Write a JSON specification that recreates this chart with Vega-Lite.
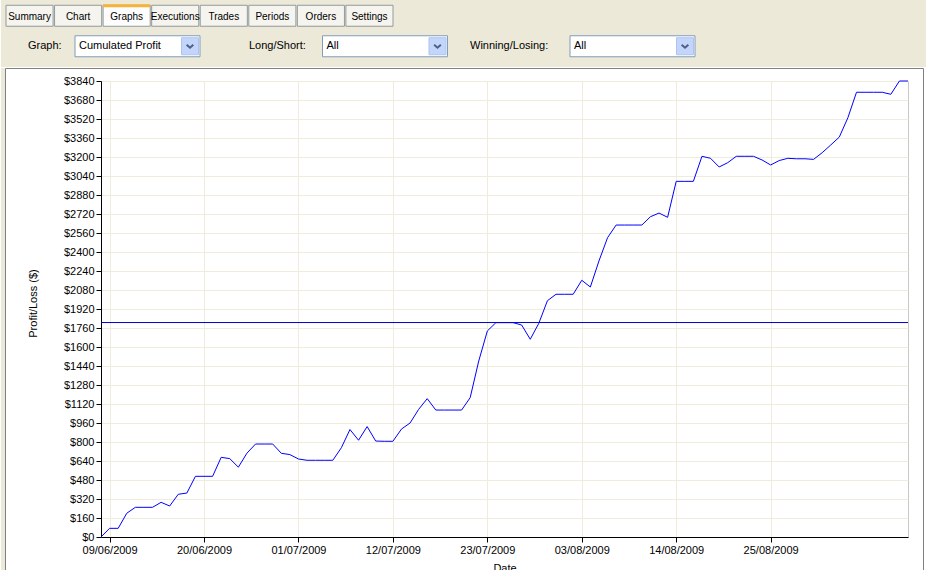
{
  "$schema": "https://vega.github.io/schema/vega-lite/v6.json",
  "background": "white",
  "padding": 0,
  "spacing": 0,
  "datasets": {
    "panel": [{"part": "panel"}],
    "tabs": [
      {"tab": "Summary", "sel": "n"},
      {"tab": "Chart", "sel": "n"},
      {"tab": "Graphs", "sel": "y"},
      {"tab": "Executions", "sel": "n"},
      {"tab": "Trades", "sel": "n"},
      {"tab": "Periods", "sel": "n"},
      {"tab": "Orders", "sel": "n"},
      {"tab": "Settings", "sel": "n"}
    ],
    "controls": [
      {"group": "g1", "label": "Graph:", "value": "Cumulated Profit"},
      {"group": "g2", "label": "Long/Short:", "value": "All"},
      {"group": "g3", "label": "Winning/Losing:", "value": "All"}
    ],
    "profit": [
      {"date": "2009-06-08", "profit": 0},
      {"date": "2009-06-09", "profit": 73},
      {"date": "2009-06-10", "profit": 73},
      {"date": "2009-06-11", "profit": 200},
      {"date": "2009-06-12", "profit": 250},
      {"date": "2009-06-13", "profit": 250},
      {"date": "2009-06-14", "profit": 250},
      {"date": "2009-06-15", "profit": 292},
      {"date": "2009-06-16", "profit": 261},
      {"date": "2009-06-17", "profit": 360},
      {"date": "2009-06-18", "profit": 370},
      {"date": "2009-06-19", "profit": 511},
      {"date": "2009-06-20", "profit": 511},
      {"date": "2009-06-21", "profit": 511},
      {"date": "2009-06-22", "profit": 671},
      {"date": "2009-06-23", "profit": 660},
      {"date": "2009-06-24", "profit": 588},
      {"date": "2009-06-25", "profit": 706},
      {"date": "2009-06-26", "profit": 783},
      {"date": "2009-06-27", "profit": 783},
      {"date": "2009-06-28", "profit": 783},
      {"date": "2009-06-29", "profit": 705},
      {"date": "2009-06-30", "profit": 694},
      {"date": "2009-07-01", "profit": 657},
      {"date": "2009-07-02", "profit": 646},
      {"date": "2009-07-03", "profit": 646},
      {"date": "2009-07-04", "profit": 646},
      {"date": "2009-07-05", "profit": 646},
      {"date": "2009-07-06", "profit": 752},
      {"date": "2009-07-07", "profit": 905},
      {"date": "2009-07-08", "profit": 815},
      {"date": "2009-07-09", "profit": 930},
      {"date": "2009-07-10", "profit": 808},
      {"date": "2009-07-11", "profit": 806},
      {"date": "2009-07-12", "profit": 806},
      {"date": "2009-07-13", "profit": 909},
      {"date": "2009-07-14", "profit": 960},
      {"date": "2009-07-15", "profit": 1075},
      {"date": "2009-07-16", "profit": 1165},
      {"date": "2009-07-17", "profit": 1069},
      {"date": "2009-07-18", "profit": 1069},
      {"date": "2009-07-19", "profit": 1069},
      {"date": "2009-07-20", "profit": 1069},
      {"date": "2009-07-21", "profit": 1173},
      {"date": "2009-07-22", "profit": 1482},
      {"date": "2009-07-23", "profit": 1735},
      {"date": "2009-07-24", "profit": 1805},
      {"date": "2009-07-25", "profit": 1805},
      {"date": "2009-07-26", "profit": 1805},
      {"date": "2009-07-27", "profit": 1785},
      {"date": "2009-07-28", "profit": 1665},
      {"date": "2009-07-29", "profit": 1800},
      {"date": "2009-07-30", "profit": 1990},
      {"date": "2009-07-31", "profit": 2044},
      {"date": "2009-08-01", "profit": 2044},
      {"date": "2009-08-02", "profit": 2044},
      {"date": "2009-08-03", "profit": 2162},
      {"date": "2009-08-04", "profit": 2105},
      {"date": "2009-08-05", "profit": 2324},
      {"date": "2009-08-06", "profit": 2520},
      {"date": "2009-08-07", "profit": 2627},
      {"date": "2009-08-08", "profit": 2627},
      {"date": "2009-08-09", "profit": 2627},
      {"date": "2009-08-10", "profit": 2627},
      {"date": "2009-08-11", "profit": 2697},
      {"date": "2009-08-12", "profit": 2728},
      {"date": "2009-08-13", "profit": 2692},
      {"date": "2009-08-14", "profit": 2995},
      {"date": "2009-08-15", "profit": 2995},
      {"date": "2009-08-16", "profit": 2995},
      {"date": "2009-08-17", "profit": 3206},
      {"date": "2009-08-18", "profit": 3189},
      {"date": "2009-08-19", "profit": 3116},
      {"date": "2009-08-20", "profit": 3152},
      {"date": "2009-08-21", "profit": 3206},
      {"date": "2009-08-22", "profit": 3206},
      {"date": "2009-08-23", "profit": 3206},
      {"date": "2009-08-24", "profit": 3175},
      {"date": "2009-08-25", "profit": 3133},
      {"date": "2009-08-26", "profit": 3170},
      {"date": "2009-08-27", "profit": 3189},
      {"date": "2009-08-28", "profit": 3185},
      {"date": "2009-08-29", "profit": 3185},
      {"date": "2009-08-30", "profit": 3180},
      {"date": "2009-08-31", "profit": 3236},
      {"date": "2009-09-01", "profit": 3301},
      {"date": "2009-09-02", "profit": 3368},
      {"date": "2009-09-03", "profit": 3531},
      {"date": "2009-09-04", "profit": 3745},
      {"date": "2009-09-05", "profit": 3745},
      {"date": "2009-09-06", "profit": 3745},
      {"date": "2009-09-07", "profit": 3745},
      {"date": "2009-09-08", "profit": 3728},
      {"date": "2009-09-09", "profit": 3840},
      {"date": "2009-09-10", "profit": 3840}
    ],
    "reference": [{"level": 1806}]
  },
  "vconcat": [
    {
      "width": 826,
      "height": 67,
      "view": {"stroke": null},
      "resolve": {"scale": {"x": "independent"}},
      "layer": [
        {
          "data": {"name": "panel"},
          "mark": {"type": "rect", "fill": "#ece9d8"},
          "encoding": {
            "x": {"field": "part", "type": "nominal", "axis": null,
              "scale": {"type": "band", "range": [-100, 826], "paddingInner": 0, "paddingOuter": 0}}
          }
        },
        {
          "data": {"name": "tabs"},
          "mark": {"type": "rect", "height": 21, "yOffset": -1, "stroke": "#919b9c", "strokeWidth": 1},
          "encoding": {
            "x": {"field": "tab", "type": "nominal", "sort": null, "axis": null,
              "scale": {"type": "band", "domain": ["Summary", "Chart", "Graphs", "Executions", "Trades", "Periods", "Orders", "Settings"], "range": [-95, 292], "paddingInner": 0.03, "paddingOuter": 0}},
            "y": {"datum": "tabs", "type": "nominal", "axis": null,
              "scale": {"type": "band", "domain": ["tabs", "controls"], "range": [0, 67], "paddingInner": 0, "paddingOuter": 0}},
            "fill": {"condition": {"test": "datum.sel == 'y'", "value": "#fdfdfd"}, "value": "#f5f4ee"}
          }
        },
        {
          "data": {"name": "tabs"},
          "transform": [{"filter": "datum.sel == 'y'"}],
          "mark": {"type": "rect", "height": 3, "yOffset": -11, "fill": "#f6b33a"},
          "encoding": {
            "x": {"field": "tab", "type": "nominal", "sort": null, "axis": null,
              "scale": {"type": "band", "domain": ["Summary", "Chart", "Graphs", "Executions", "Trades", "Periods", "Orders", "Settings"], "range": [-95, 292], "paddingInner": 0.03, "paddingOuter": 0}},
            "y": {"datum": "tabs", "type": "nominal", "axis": null}
          }
        },
        {
          "data": {"name": "tabs"},
          "mark": {"type": "text", "fontSize": 10},
          "encoding": {
            "x": {"field": "tab", "type": "nominal", "sort": null, "axis": null, "bandPosition": 0.5,
              "scale": {"type": "band", "domain": ["Summary", "Chart", "Graphs", "Executions", "Trades", "Periods", "Orders", "Settings"], "range": [-95, 292], "paddingInner": 0.03, "paddingOuter": 0}},
            "y": {"datum": "tabs", "type": "nominal", "axis": null},
            "text": {"field": "tab"}
          }
        },
        {
          "data": {"name": "controls"},
          "mark": {"type": "text", "align": "left", "yOffset": -4},
          "encoding": {
            "x": {"field": "label", "type": "nominal", "sort": null, "axis": null, "bandPosition": 0,
              "scale": {"type": "band", "domain": ["Graph:", "Long/Short:", "Winning/Losing:"], "range": [-73, 590], "paddingInner": 0, "paddingOuter": 0}},
            "y": {"datum": "controls", "type": "nominal", "axis": null},
            "text": {"field": "label"}
          }
        },
        {
          "data": {"name": "controls"},
          "mark": {"type": "rect", "height": 21, "yOffset": -4, "fill": "white", "stroke": "#7f9db9", "strokeWidth": 1},
          "encoding": {
            "x": {"field": "group", "type": "nominal", "sort": null, "axis": null,
              "scale": {"type": "band", "domain": ["g1", "g2", "g3"], "range": [-26, 594], "paddingInner": 0.495, "paddingOuter": 0}},
            "y": {"datum": "controls", "type": "nominal", "axis": null}
          }
        },
        {
          "data": {"name": "controls"},
          "mark": {"type": "text", "align": "left", "xOffset": 4, "yOffset": -4},
          "encoding": {
            "x": {"field": "group", "type": "nominal", "sort": null, "axis": null, "bandPosition": 0,
              "scale": {"type": "band", "domain": ["g1", "g2", "g3"], "range": [-26, 594], "paddingInner": 0.495, "paddingOuter": 0}},
            "y": {"datum": "controls", "type": "nominal", "axis": null},
            "text": {"field": "value"}
          }
        },
        {
          "data": {"name": "controls"},
          "mark": {"type": "point", "shape": "square", "filled": true, "size": 289, "fill": "#c4d5fc", "stroke": "#aec3ee", "strokeWidth": 1, "opacity": 1, "xOffset": -10, "yOffset": -4},
          "encoding": {
            "x": {"field": "group", "type": "nominal", "sort": null, "axis": null, "bandPosition": 1,
              "scale": {"type": "band", "domain": ["g1", "g2", "g3"], "range": [-26, 594], "paddingInner": 0.495, "paddingOuter": 0}},
            "y": {"datum": "controls", "type": "nominal", "axis": null}
          }
        },
        {
          "data": {"name": "controls"},
          "mark": {"type": "point", "shape": "M-1,-0.45L0,0.45L1,-0.45", "filled": false, "size": 45, "stroke": "#4d6185", "strokeWidth": 2, "opacity": 1, "xOffset": -10, "yOffset": -4},
          "encoding": {
            "x": {"field": "group", "type": "nominal", "sort": null, "axis": null, "bandPosition": 1,
              "scale": {"type": "band", "domain": ["g1", "g2", "g3"], "range": [-26, 594], "paddingInner": 0.495, "paddingOuter": 0}},
            "y": {"datum": "controls", "type": "nominal", "axis": null}
          }
        }
      ]
    },
    {
      "width": 807,
      "height": 456,
      "view": {"stroke": "#c8c8c8", "fill": "white"},
      "resolve": {"scale": {"x": "independent", "y": "independent"}},
      "layer": [
        {
          "data": {"name": "panel"},
          "mark": {"type": "rect", "fill": "#ece9d8"},
          "encoding": {
            "x": {"field": "part", "type": "nominal", "axis": null,
              "scale": {"type": "band", "range": [-100, -96], "paddingInner": 0, "paddingOuter": 0}},
            "y": {"field": "part", "type": "nominal", "axis": null,
              "scale": {"type": "band", "range": [-13, 492], "paddingInner": 0, "paddingOuter": 0}}
          }
        },
        {
          "data": {"name": "panel"},
          "mark": {"type": "rect", "fill": null, "stroke": "#808080", "strokeWidth": 1},
          "encoding": {
            "x": {"field": "part", "type": "nominal", "axis": null,
              "scale": {"type": "band", "range": [-95.5, 822.5], "paddingInner": 0, "paddingOuter": 0}},
            "y": {"field": "part", "type": "nominal", "axis": null,
              "scale": {"type": "band", "range": [-12.5, 492], "paddingInner": 0, "paddingOuter": 0}}
          }
        },
        {
          "layer": [
            {
              "data": {"name": "profit"},
              "mark": {"type": "line", "color": "#0000ff", "strokeWidth": 1},
              "encoding": {
                "x": {
                  "field": "date",
                  "type": "temporal",
                  "scale": {"type": "utc", "nice": false, "domain": [
                    {"year": 2009, "month": 6, "date": 8, "utc": true},
                    {"year": 2009, "month": 9, "date": 10, "utc": true}
                  ]},
                  "axis": {
                    "title": "Date",
                    "values": [
                      {"year": 2009, "month": 6, "date": 9, "utc": true},
                      {"year": 2009, "month": 6, "date": 20, "utc": true},
                      {"year": 2009, "month": 7, "date": 1, "utc": true},
                      {"year": 2009, "month": 7, "date": 12, "utc": true},
                      {"year": 2009, "month": 7, "date": 23, "utc": true},
                      {"year": 2009, "month": 8, "date": 3, "utc": true},
                      {"year": 2009, "month": 8, "date": 14, "utc": true},
                      {"year": 2009, "month": 8, "date": 25, "utc": true}
                    ],
                    "labelExpr": "utcFormat(datum.value, '%d/%m/%Y')",
                    "labelFlush": false,
                    "labelOverlap": false,
                    "grid": true,
                    "gridColor": "#efecdc",
                    "domainColor": "black",
                    "tickColor": "black",
                    "tickSize": 5,
                    "labelPadding": 2,
                    "titlePadding": 7
                  }
                },
                "y": {
                  "field": "profit",
                  "type": "quantitative",
                  "scale": {"domain": [0, 3840], "nice": false},
                  "axis": {
                    "title": "Profit/Loss ($)",
                    "values": [0, 160, 320, 480, 640, 800, 960, 1120, 1280, 1440, 1600, 1760, 1920, 2080, 2240, 2400, 2560, 2720, 2880, 3040, 3200, 3360, 3520, 3680, 3840],
                    "format": "$d",
                    "labelFlush": false,
                    "labelOverlap": false,
                    "grid": true,
                    "gridColor": "#efecdc",
                    "domainColor": "black",
                    "tickColor": "black",
                    "tickSize": 5,
                    "labelPadding": 2,
                    "minExtent": 100,
                    "maxExtent": 100,
                    "titlePadding": 0,
                    "titleX": -63,
                    "titleY": 222
                  }
                }
              }
            },
            {
              "data": {"name": "reference"},
              "mark": {"type": "rule", "color": "#0000c8", "strokeWidth": 1},
              "encoding": {
                "y": {
                  "field": "level",
                  "type": "quantitative",
                  "axis": {
                    "title": "Profit/Loss ($)",
                    "values": [0, 160, 320, 480, 640, 800, 960, 1120, 1280, 1440, 1600, 1760, 1920, 2080, 2240, 2400, 2560, 2720, 2880, 3040, 3200, 3360, 3520, 3680, 3840],
                    "format": "$d",
                    "labelFlush": false,
                    "labelOverlap": false,
                    "grid": true,
                    "gridColor": "#efecdc",
                    "domainColor": "black",
                    "tickColor": "black",
                    "tickSize": 5,
                    "labelPadding": 2,
                    "minExtent": 100,
                    "maxExtent": 100,
                    "titlePadding": 0,
                    "titleX": -63,
                    "titleY": 222
                  }
                }
              }
            }
          ]
        }
      ]
    }
  ],
  "config": {
    "font": "Liberation Sans",
    "axis": {
      "labelFont": "Liberation Sans",
      "labelFontSize": 11,
      "labelColor": "black",
      "titleFont": "Liberation Sans",
      "titleFontSize": 11,
      "titleFontWeight": "normal",
      "titleColor": "black"
    },
    "text": {"font": "Liberation Sans", "fontSize": 11, "color": "black"}
  }
}
